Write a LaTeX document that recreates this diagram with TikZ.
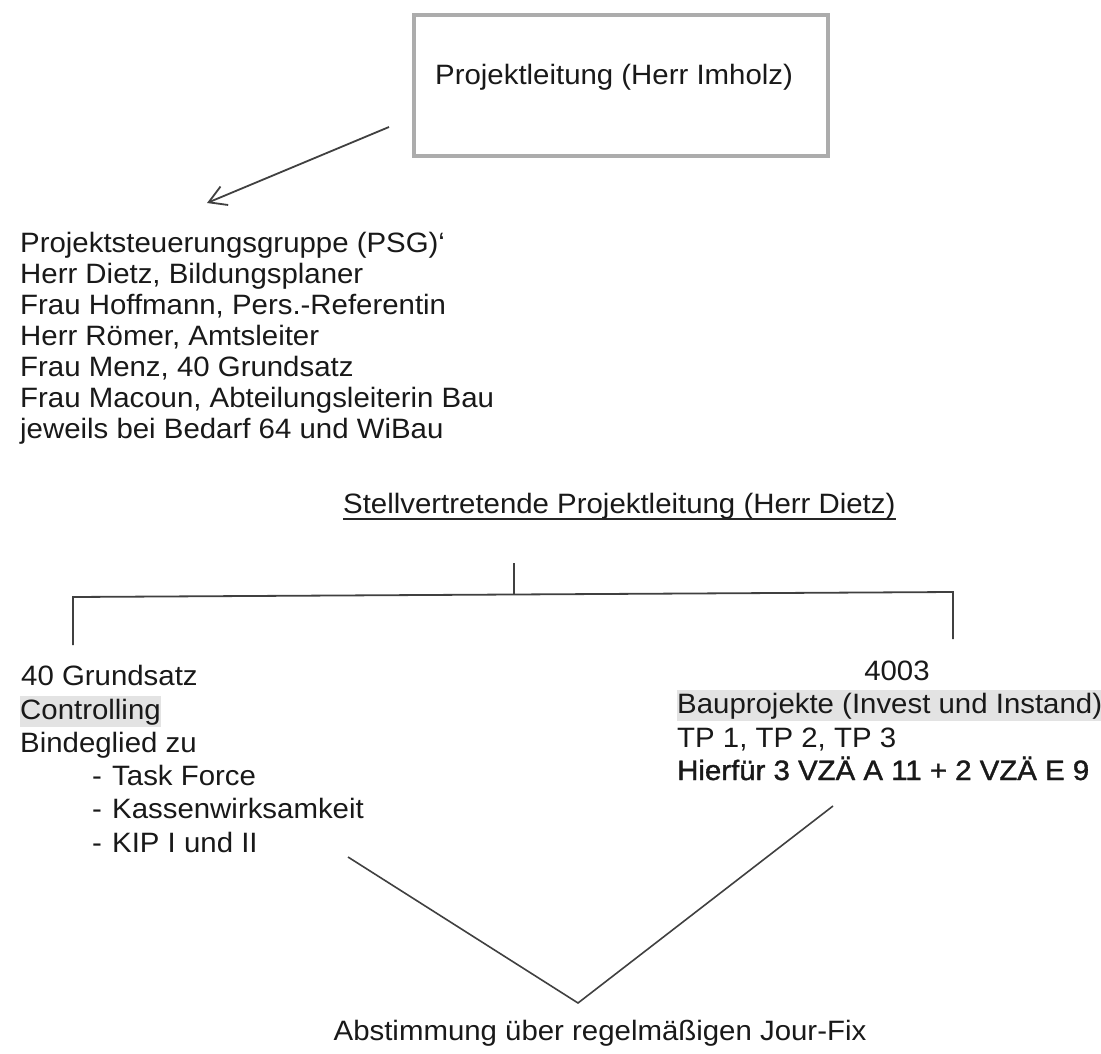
\documentclass[tikz,border=0pt]{standalone}
\usepackage{fontspec}
\setmainfont[FakeStretch=1.05]{Liberation Sans}
\newfontfamily\heavyfont[FakeStretch=1.05,FakeBold=1.3]{Liberation Sans}
\usetikzlibrary{arrows.meta}
\begin{document}
\begin{tikzpicture}[x=1pt,y=-1pt,
  txt/.style={font=\fontsize{28}{31}\selectfont, inner sep=0pt, anchor=base west, text=black!90},
  hltxt/.style={txt, fill=gray!22, inner ysep=2.5pt},
  ln/.style={draw=black!75, line width=1.8pt},
  bx/.style={draw=gray!65, line width=3.8pt, inner sep=0pt, anchor=north west}]
\useasboundingbox (0,0) rectangle (1101,1054);
\fill[white] (0,0) rectangle (1101,1054);

% top box
\node[bx, minimum width=414pt, minimum height=141pt] (plbox) at (412,13) {};
\node[txt] (pltext) at (435,85) {Projektleitung (Herr Imholz)};

% arrow
\coordinate (arrS) at (389,127);
\coordinate (arrE) at (207,203);
\draw[ln, -{Straight Barb[length=17pt,width=20pt]}] (arrS) -- (arrE);

% PSG block
\node[txt] (psg1) at (20,252) {Projektsteuerungsgruppe (PSG)‘};
\node[txt] (psg2) at (20,283) {Herr Dietz, Bildungsplaner};
\node[txt] (psg3) at (20,314) {Frau Hoffmann, Pers.-Referentin};
\node[txt] (psg4) at (20,345) {Herr Römer, Amtsleiter};
\node[txt] (psg5) at (20,376) {Frau Menz, 40 Grundsatz};
\node[txt] (psg6) at (20,407) {Frau Macoun, Abteilungsleiterin Bau};
\node[txt] (psg7) at (20,438) {jeweils bei Bedarf 64 und WiBau};

% deputy
\node[txt] (stell) at (343,513) {Stellvertretende Projektleitung (Herr Dietz)};
\draw[black!85, line width=1.7pt] ([yshift=-6pt]stell.base west) -- ([yshift=-6pt]stell.base east);

% tree
\coordinate (ctop) at (514,563);
\coordinate (hm) at (514,594.5);
\coordinate (hl) at (73,597);
\coordinate (hr) at (953,592);
\coordinate (lb) at (73,645);
\coordinate (rb) at (953,639);
\draw[ln] (ctop) -- (hm);
\draw[ln] (lb) -- (hl) -- (hr) -- (rb);

% left block
\node[txt] (l1) at (21,685) {40 Grundsatz};
\node[hltxt] (l2) at (20,719) {Controlling};
\node[txt] (l3) at (20,752) {Bindeglied zu};
\node[txt] (d1) at (92,785) {-};
\node[txt] (b1) at (112,785) {Task Force};
\node[txt] (d2) at (92,818) {-};
\node[txt] (b2) at (112,818) {Kassenwirksamkeit};
\node[txt] (d3) at (92,852) {-};
\node[txt] (b3) at (112,852) {KIP I und II};

% right block
\node[txt, anchor=base] (r1) at (897,680) {4003};
\node[hltxt] (r2) at (677,713) {Bauprojekte (Invest und Instand)};
\node[txt] (r3) at (677,747) {TP 1, TP 2, TP 3};
\node[txt, font=\fontsize{28}{31}\heavyfont] (r4) at (677,780) {Hierfür 3 VZÄ A 11 + 2 VZÄ E 9};

% V
\coordinate (vl) at (348,857);
\coordinate (vv) at (578,1003);
\coordinate (vr) at (833,806);
\draw[ln, line width=1.6pt] (vl) -- (vv) -- (vr);

\node[txt, anchor=base] (abst) at (600,1040) {Abstimmung über regelmäßigen Jour-Fix};
\end{tikzpicture}
\end{document}
